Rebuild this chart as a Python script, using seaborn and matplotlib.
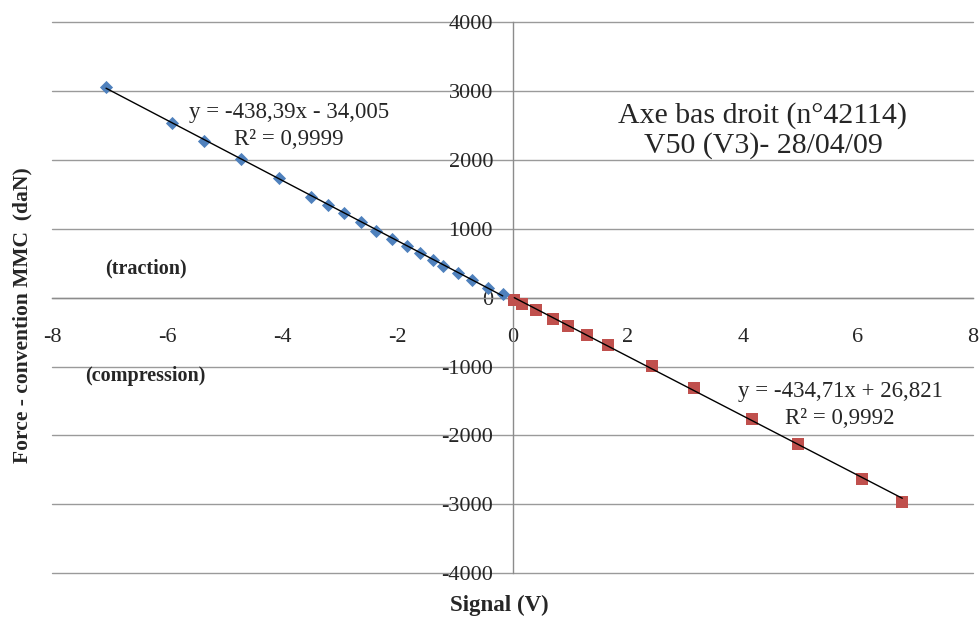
import numpy as np
import pandas as pd
import matplotlib
matplotlib.use("Agg")
import matplotlib.pyplot as plt
import seaborn as sns

# traction branch (negative signal)
sig_trac = [-7.06, -5.91, -5.36, -4.71, -4.05, -3.50, -3.20, -2.92, -2.64, -2.37,
            -2.09, -1.84, -1.60, -1.39, -1.20, -0.94, -0.70, -0.42, -0.17]
force_trac = [3062, 2540, 2279, 2017, 1742, 1466, 1350, 1234, 1103, 972,
              856, 755, 653, 552, 464, 363, 261, 145, 58]

# compression branch (positive signal)
sig_comp = [0.03, 0.17, 0.40, 0.70, 0.96, 1.30, 1.65, 2.42, 3.15, 4.16, 4.96, 6.07, 6.77]
force_comp = [-29, -87, -174, -305, -406, -537, -682, -987, -1306, -1756, -2119, -2627, -2961]

x_ticks = [-8, -6, -4, -2, 0, 2, 4, 6, 8]
y_ticks = [-4000, -3000, -2000, -1000, 0, 1000, 2000, 3000, 4000]

df = pd.concat([
    pd.DataFrame({"signal": sig_trac, "force": force_trac, "serie": "traction"}),
    pd.DataFrame({"signal": sig_comp, "force": force_comp, "serie": "compression"}),
])

sns.set_style("white")
plt.rcParams["font.family"] = ["Liberation Serif", "DejaVu Serif"]

fig = plt.figure(figsize=(9.8, 6.17), dpi=100)
ax = fig.add_axes([0.053, 0.071, 0.940, 0.893])

palette = {"traction": "#4F81BD", "compression": "#C0504D"}
markers = {"traction": "D", "compression": "s"}
sizes = {"traction": 45, "compression": 80}
for name, sub in df.groupby("serie"):
    sns.scatterplot(data=sub, x="signal", y="force", color=palette[name],
                    marker=markers[name], s=sizes[name], edgecolor=palette[name],
                    linewidth=0, ax=ax, zorder=3)
    sns.regplot(data=sub, x="signal", y="force", scatter=False, ci=None,
                truncate=True, color="black", line_kws={"lw": 1, "zorder": 4}, ax=ax)

ax.set_xlim(-8, 8)
ax.set_ylim(-4000, 4000)
ax.set_xticks(x_ticks)
ax.set_yticks(y_ticks)
ax.set_xticklabels([str(t) for t in x_ticks])
ax.set_yticklabels([str(t) for t in y_ticks])
ax.set_xlabel("")
ax.set_ylabel("")

for y in y_ticks:
    ax.axhline(y, color="#9a9a9a", lw=1, zorder=0, clip_on=False)

ax.spines["left"].set_position("zero")
ax.spines["bottom"].set_position("zero")
for s in ["top", "right"]:
    ax.spines[s].set_visible(False)
for s in ["left", "bottom"]:
    ax.spines[s].set_color("#8c8c8c")
    ax.spines[s].set_linewidth(1)
ax.tick_params(axis="both", direction="inout", length=9, width=1, color="#8c8c8c",
               labelsize=16)
ax.tick_params(axis="x", pad=17)
ax.tick_params(axis="y", pad=14, length=0)

ax.text(-3.88, 2685, "y = -438,39x - 34,005", ha="center", va="center", fontsize=16.5)
ax.text(-3.88, 2293, "R² = 0,9999", ha="center", va="center", fontsize=16.5)
ax.text(5.69, -1364, "y = -434,71x + 26,821", ha="center", va="center", fontsize=16.5)
ax.text(5.69, -1756, "R² = 0,9992", ha="center", va="center", fontsize=16.5)
ax.text(4.35, 2641, "Axe bas droit (n°42114)", ha="center", va="center", fontsize=21.5)
ax.text(4.35, 2206, "V50 (V3)- 28/04/09", ha="center", va="center", fontsize=21.5)
ax.text(-6.37, 421, "(traction)", ha="center", va="center", fontsize=14.5, fontweight="bold")
ax.text(-6.37, -1132, "(compression)", ha="center", va="center", fontsize=14.5, fontweight="bold")

fig.text(0.51, 0.019, "Signal (V)", ha="center", va="center", fontsize=16.5, fontweight="bold")
fig.text(0.023, 0.49, "Force - convention MMC  (daN)", ha="center", va="center",
         rotation=90, fontsize=15.5, fontweight="bold")

fig.savefig("out.png", dpi=100)
